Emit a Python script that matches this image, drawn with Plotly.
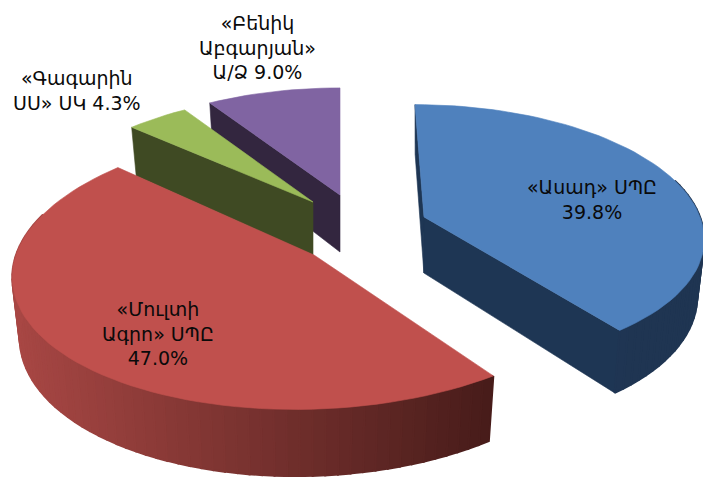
import math
import plotly.graph_objects as go

names = ["«Ասադ» ՍՊԸ", "«Մուլտի<br>Ագրո» ՍՊԸ", "«Գագարին<br>ՍՍ» ՍԿ", "«Բենիկ<br>Աբգարյան»<br>Ա/Ձ"]
values = [39.8, 47.0, 4.3, 9.0]
top_colors = ["#4F81BD", "#C0504D", "#9BBB59", "#8064A2"]
wall_left = ["#1E3654", "#A84744", "#3F4A23", "#33263F"]
wall_right = ["#1F3552", "#471C1A", "#3F4A23", "#33263F"]
face_sides = [[0, 1], [], [0], [0]]

apex_x = [424, 314, 313, 340]
apex_y = [217, 255, 202, 195]
radius_x = [276, 298, 266, 270]
radius_y = [127, 139, 121, 121]
persp = [0.13, 0.10, 0.13, 0.13]
shear_back = [0.08, -0.124, 0.0, 0.0]
shear_front = [0.096, -0.124, 0.0, 0.0]
depth = [56, 60, 53, 57]
lean_center = [420, 314, 313, 340]
label_x = [592, 158, 77, 257]
label_y = [199, 333, 90, 47]
LEAN = 0.025
draw_order = [3, 2, 0, 1]

total = sum(values)
starts = []
acc = 0.0
for v in values:
    starts.append(acc / total * 2 * math.pi)
    acc += v


def project(i, a):
    X, Y = math.sin(a), math.cos(a)
    s = 1 / (1 + persp[i] * Y)
    dy = -radius_y[i] * Y * s
    sh = shear_front[i] if dy > 0 else shear_back[i]
    return apex_x[i] + radius_x[i] * X * s + sh * dy, apex_y[i] + dy, s


def drop(i, x, y, s):
    return x - (x - lean_center[i]) * LEAN, y + depth[i] * s


def mix(c1, c2, t):
    a = [int(c1[j:j + 2], 16) for j in (1, 3, 5)]
    b = [int(c2[j:j + 2], 16) for j in (1, 3, 5)]
    return "rgb(%d,%d,%d)" % tuple(round(p + (q - p) * t) for p, q in zip(a, b))


fig = go.Figure()


def poly(xs, ys, color, w=0.6):
    fig.add_trace(go.Scatter(x=list(xs) + [xs[0]], y=list(ys) + [ys[0]], mode="lines",
                             fill="toself", fillcolor=color, line=dict(color=color, width=w),
                             hoverinfo="skip", showlegend=False))


for i in draw_order:
    a0 = starts[i]
    a1 = a0 + values[i] / total * 2 * math.pi
    n = max(6, int(values[i] * 1.6))
    angs = [a0 + (a1 - a0) * k / n for k in range(n + 1)]
    pts = [project(i, a) for a in angs]
    ax, ay = apex_x[i], apex_y[i]
    abx, aby = drop(i, ax, ay, 1)
    for side in face_sides[i]:
        p = pts[-side]
        bx, by = drop(i, *p)
        poly([ax, p[0], bx, abx], [ay, p[1], by, aby], wall_left[i])
    xmin = min(p[0] for p in pts)
    xmax = max(p[0] for p in pts)
    for k in range(n):
        if math.cos((angs[k] + angs[k + 1]) / 2) > 0.3:
            continue
        p, q = pts[k], pts[k + 1]
        pb, qb = drop(i, *p), drop(i, *q)
        t = ((p[0] + q[0]) / 2 - xmin) / (xmax - xmin)
        poly([p[0], q[0], qb[0], pb[0]], [p[1], q[1], qb[1], pb[1]], mix(wall_left[i], wall_right[i], t), 2)
    poly([ax] + [p[0] for p in pts], [ay] + [p[1] for p in pts], top_colors[i])

for i in range(4):
    fig.add_annotation(x=label_x[i], y=label_y[i], xref="x", yref="y", showarrow=False,
                       text=f"{names[i]} {values[i]:.1f}%" if i in (2, 3) else f"{names[i]}<br>{values[i]:.1f}%",
                       align="center", font=dict(family="DejaVu Sans", size=19, color="#0A0A0A"))

# the page body has an 8px margin, so the plot area starts 8px in
fig.update_xaxes(range=[8, 711], visible=False, fixedrange=True)
fig.update_yaxes(range=[477, 8], visible=False, fixedrange=True)
fig.update_layout(width=703, height=469, margin=dict(l=0, r=0, t=0, b=0),
                  paper_bgcolor="white", plot_bgcolor="white", showlegend=False)
fig.write_html("out.html", config={"displayModeBar": False})
